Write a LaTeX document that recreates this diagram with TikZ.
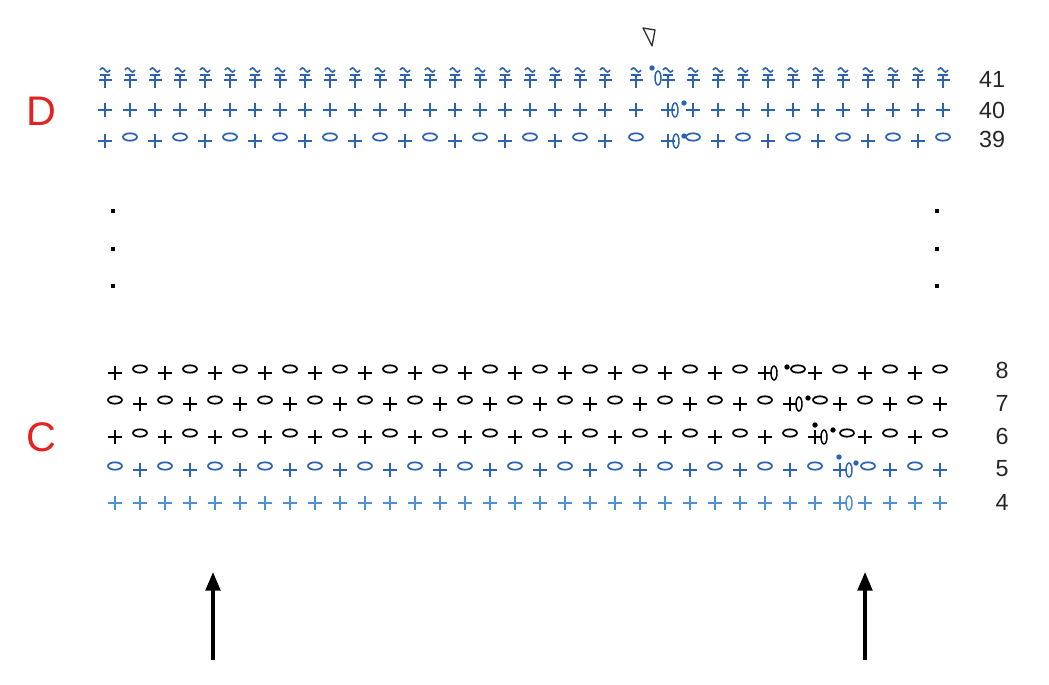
\documentclass[tikz,border=0pt]{standalone}
\usepackage{fontspec}
\setmainfont{Liberation Sans}
\usepackage{xcolor}
\usepackage{tikz}
\usetikzlibrary{arrows.meta}
\definecolor{chartblue}{HTML}{2B62B2}
\definecolor{paleblue}{HTML}{4E8FD6}
\definecolor{partred}{HTML}{E32322}

\begin{document}
\begin{tikzpicture}[x=0.75pt, y=-0.75pt,
  sc/.pic={\draw[line width=1.8pt] (-7,0) -- (7,0) (0,-7) -- (0,7);},
  ch/.pic={\draw[line width=1.3pt] (0,-4) ellipse [x radius=7, y radius=3.7];},
  dc/.pic={\draw[line width=1.6pt] (-6.5,0) -- (6.5,0) (-5,-5) -- (5,-5) (0,-5) -- (0,8);
    \draw[line width=1.2pt] (-5,-10) sin (-2.5,-12) cos (0,-10) sin (2.5,-8) cos (5,-10);},
  inc/.pic={\draw[line width=1.1pt] (0,0) ellipse [x radius=3, y radius=7];},
  bead/.pic={\fill (0,0) circle [radius=2.7];},
  rownum/.style={font=\fontsize{17.5}{20}\selectfont, text=black!85, inner sep=0pt},
  partname/.style={font=\fontsize{31}{36}\selectfont, text=partred, inner sep=0pt},
  uparrow/.style={-{Triangle[length=14pt, width=11pt]}, line width=2.5pt}
]
\useasboundingbox (0,0) rectangle (1049,685);

% Marker above the increase
\draw[line width=1pt, black!80, line join=round] (643,28) -- (655,30) -- (652,46) -- cycle;

% D: rows 39-41
\begin{scope}[color=chartblue]
  % row 41
  \foreach \k in {0,...,20} \pic at ({105+25*\k},80) {dc};
  \pic at (636,80) {dc};
  \foreach \k in {22,...,33} \pic at ({118+25*\k},80) {dc};
  \pic at (658,78) {inc};
  \pic at (652,68) {bead};
  % row 40
  \foreach \k in {0,...,20} \pic at ({105+25*\k},110) {sc};
  \pic at (636,110) {sc};
  \foreach \k in {22,...,33} \pic at ({118+25*\k},110) {sc};
  \pic at (675,110) {inc};
  \pic at (684,103) {bead};
  % row 39
  \foreach \k in {0,2,...,20} \pic at ({105+25*\k},141) {sc};
  \foreach \k in {1,3,...,19} \pic at ({105+25*\k},141) {ch};
  \pic at (636,141) {ch};
  \foreach \k in {22,24,...,32} \pic at ({118+25*\k},141) {sc};
  \foreach \k in {23,25,...,33} \pic at ({118+25*\k},141) {ch};
  \pic at (676,141) {inc};
  \pic at (684,136) {bead};
\end{scope}

% Skipped rows
\foreach \y in {211,249,286} {
  \fill (111,{\y-2}) rectangle (115,{\y+2});
  \fill (935,{\y-2}) rectangle (939,{\y+2});
}

% C: rows 6-8
\begin{scope}[color=black]
  % row 8
  \foreach \k in {0,2,...,32} \pic at ({115+25*\k},373) {sc};
  \foreach \k in {1,3,...,25,29,31,33} \pic at ({115+25*\k},373) {ch};
  \pic at (798,373) {ch};
  \pic at (774,373) {inc};
  \pic at (787,367) {bead};
  % row 7
  \foreach \k in {1,3,...,33} \pic at ({115+25*\k},404) {sc};
  \foreach \k in {0,2,...,26,30,32} \pic at ({115+25*\k},404) {ch};
  \pic at (820,404) {ch};
  \pic at (799,404) {inc};
  \pic at (808,398) {bead};
  % row 6
  \foreach \k in {0,2,...,32} \pic at ({115+25*\k},437) {sc};
  \foreach \k in {1,3,...,27,31,33} \pic at ({115+25*\k},437) {ch};
  \pic at (847,437) {ch};
  \pic at (824,437) {inc};
  \pic at (815,425) {bead};
  \pic at (833,430) {bead};
\end{scope}

% C: rows 4-5
\begin{scope}[color=chartblue]
  % row 5
  \foreach \k in {1,3,...,33} \pic at ({115+25*\k},470) {sc};
  \foreach \k in {0,2,...,28,32} \pic at ({115+25*\k},470) {ch};
  \pic at (868,470) {ch};
  \pic at (849,470) {inc};
  \pic at (839,457) {bead};
  \pic at (856,463) {bead};
\end{scope}
\begin{scope}[color=paleblue]
  % row 4
  \foreach \k in {0,...,33} \pic at ({115+25*\k},503) {sc};
  \pic at (849,503) {inc};
\end{scope}

% Part letters
\node[partname] (partD) at (41,111) {D};
\node[partname] (partC) at (41,437) {C};

% Row numbers
\node[rownum] (row41) at (992,79) {41};
\node[rownum] (row40) at (992,110) {40};
\node[rownum] (row39) at (992,139) {39};
\node[rownum] (row8) at (1002,370) {8};
\node[rownum] (row7) at (1002,403) {7};
\node[rownum] (row6) at (1002,436) {6};
\node[rownum] (row5) at (1002,469) {5};
\node[rownum] (row4) at (1002,502) {4};

% Arrows
\coordinate (leftfoot) at (213,660);
\coordinate (lefttip) at (213,572);
\coordinate (rightfoot) at (865,660);
\coordinate (righttip) at (865,572);
\draw[uparrow] (leftfoot) -- (lefttip);
\draw[uparrow] (rightfoot) -- (righttip);

\end{tikzpicture}
\end{document}
